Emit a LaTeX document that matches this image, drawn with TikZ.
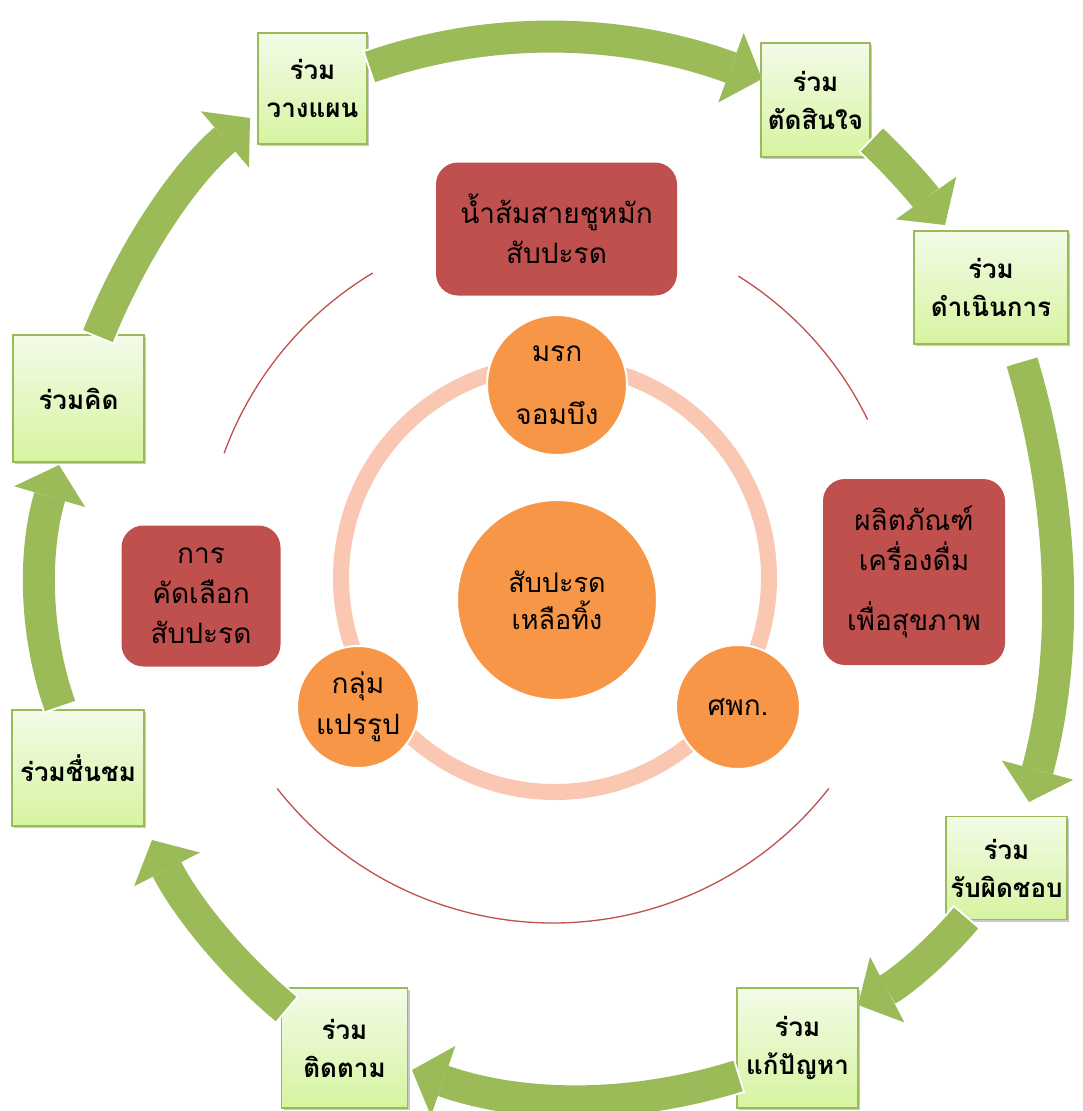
\documentclass[tikz,border=0pt]{standalone}
\usepackage{fontspec}
\newfontfamily\thai[Script=Thai]{Loma}
\usetikzlibrary{arrows.meta,shadows,calc}

\definecolor{gArrow}{RGB}{155,187,89}
\definecolor{gEdge}{RGB}{155,187,89}
\definecolor{gTop}{RGB}{243,251,232}
\definecolor{gBot}{RGB}{214,244,160}
\definecolor{redBox}{RGB}{192,80,77}
\definecolor{orangeC}{RGB}{247,150,70}
\definecolor{ringC}{RGB}{250,200,178}

\tikzset{
  gbox/.style={draw=gEdge, line width=1.3pt, top color=gTop, bottom color=gBot,
    align=center, inner sep=2pt,
    font=\thai\bfseries\fontsize{26}{38}\selectfont,
    drop shadow={shadow xshift=2pt, shadow yshift=-2pt, opacity=0.35, fill=black!60}},
  rbox/.style={fill=redBox, rounded corners=22pt, align=center, inner sep=2pt,
    font=\thai\fontsize{28}{40}\selectfont},
  ocirc/.style={circle, fill=orangeC, draw=white, line width=2pt, align=center,
    inner sep=0pt, font=\thai\fontsize{28}{41}\selectfont},
  redarc/.style={draw=redBox, line width=1.3pt},
  cyc/.style={draw=gArrow, line width=32pt,
    -{Triangle[width=74pt,length=33pt,line width=0pt]},
    preaction={draw=white, line width=36pt, shorten <=-2pt,
      -{Triangle[width=82pt,length=36pt,line width=0pt]}}}
}

\begin{document}
\begin{tikzpicture}[x=1pt,y=-1pt]
\fill[white] (0,0) rectangle (1082,1111);
\useasboundingbox (0,0) rectangle (1082,1111);

% thin red arcs round the centre
\coordinate (rc) at (553,573);
\draw[redarc] ($(rc)+(-121:350)$) arc[start angle=-121, end angle=-160, radius=350];
\draw[redarc] ($(rc)+(-26:350)$) arc[start angle=-26, end angle=-58, radius=350];
\draw[redarc] ($(rc)+(-218:350)$) arc[start angle=-218, end angle=-322, radius=350];

% pale ring joining the three partners
\draw[ringC, line width=16pt] (555,578) circle[radius=214];

% partners and the central resource
\node[ocirc, minimum size=140pt] (mrk) at (557,385) {มรก\\[22pt]จอมบึง};
\node[ocirc, minimum size=122pt] (grp) at (358,707) {กลุ่ม\\แปรรูป};
\node[ocirc, minimum size=124pt] (spk) at (738,707) {ศพก.};
\node[ocirc, minimum size=200pt, font=\thai\fontsize{27}{37}\selectfont] (core) at (557,600) {สับปะรด\\เหลือทิ้ง};

% products and activities
\node[rbox, minimum width=241pt, minimum height=133pt] (vin) at (556.5,229) {น้ำส้มสายชูหมัก\\สับปะรด};
\node[rbox, minimum width=182pt, minimum height=186pt] (drk) at (914,572) {ผลิตภัณฑ์\\เครื่องดื่ม\\[20pt]เพื่อสุขภาพ};
\node[rbox, minimum width=159pt, minimum height=141pt] (sel) at (201,596) {การ\\คัดเลือก\\สับปะรด};

% participation cycle
\node[gbox, minimum width=109pt, minimum height=111pt] (plan) at (312.5,88.5) {ร่วม\\วางแผน};
\node[gbox, minimum width=109pt, minimum height=114pt] (decide) at (815.5,100) {ร่วม\\ตัดสินใจ};
\node[gbox, minimum width=154pt, minimum height=113pt] (act) at (991,287.5) {ร่วม\\ดำเนินการ};
\node[gbox, minimum width=121pt, minimum height=103pt] (resp) at (1006.5,868) {ร่วม\\รับผิดชอบ};
\node[gbox, minimum width=121pt, minimum height=120pt] (solve) at (797.5,1048) {ร่วม\\แก้ปัญหา};
\node[gbox, minimum width=126pt, minimum height=120pt] (follow) at (344.5,1048) {ร่วม\\ติดตาม};
\node[gbox, minimum width=132pt, minimum height=116pt] (praise) at (78,768) {ร่วมชื่นชม};
\node[gbox, minimum width=131pt, minimum height=127pt] (think) at (78.5,398.5) {ร่วมคิด};

% arrow ends (tail t, head h) and bend points q
\coordinate (tA) at (370,67);   \coordinate (qA) at (554,3);      \coordinate (hA) at (762,79);
\coordinate (tB) at (872,140);  \coordinate (qB) at (911.5,177.5); \coordinate (hB) at (945,225);
\coordinate (tC) at (1022,362); \coordinate (qC) at (1088,582);   \coordinate (hC) at (1029,802);
\coordinate (tD) at (966,918);  \coordinate (qD) at (920,972.5);  \coordinate (hD) at (858,1005);
\coordinate (tE) at (738,1076); \coordinate (qE) at (575,1127);   \coordinate (hE) at (412,1070);
\coordinate (tF) at (286,1009); \coordinate (qF) at (203,939.5);  \coordinate (hF) at (152,840);
\coordinate (tG) at (60,706);   \coordinate (qG) at (21,594.5);   \coordinate (hG) at (59,465);
\coordinate (tH) at (98,336);   \coordinate (qH) at (153,201);    \coordinate (hH) at (250,118);

\foreach \k in {A,B,C,D,E,F,G,H}{
  \draw[cyc] (t\k) .. controls ($(t\k)!2/3!(q\k)$) and ($(h\k)!2/3!(q\k)$) .. (h\k);
}
\end{tikzpicture}
\end{document}
